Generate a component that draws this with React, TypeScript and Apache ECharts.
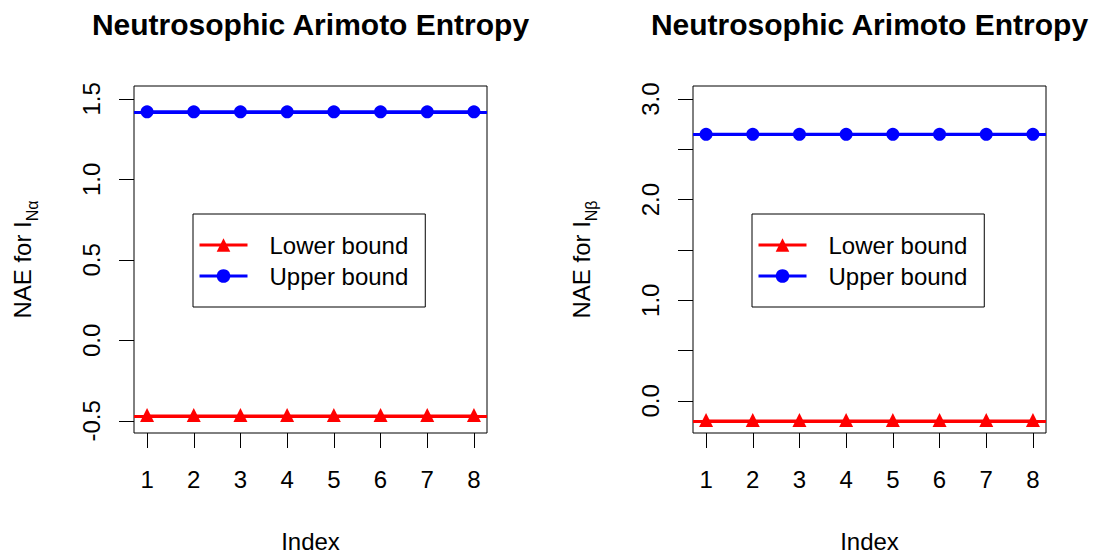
import { useEffect, useRef } from "react";
import * as echarts from "echarts";

const indices = [1, 2, 3, 4, 5, 6, 7, 8];
const lowerAlpha = [-0.47, -0.47, -0.47, -0.47, -0.47, -0.47, -0.47, -0.47];
const upperAlpha = [1.42, 1.42, 1.42, 1.42, 1.42, 1.42, 1.42, 1.42];
const lowerBeta = [-0.2, -0.2, -0.2, -0.2, -0.2, -0.2, -0.2, -0.2];
const upperBeta = [2.65, 2.65, 2.65, 2.65, 2.65, 2.65, 2.65, 2.65];
const xTicks = [1, 2, 3, 4, 5, 6, 7, 8];
const yTicksAlpha = [-0.5, 0, 0.5, 1, 1.5];
const yTicksBeta = [0, 0.5, 1, 1.5, 2, 2.5, 3];
const yLabelsBeta = [0, 1, 2, 3];
const titleText = "Neutrosophic Arimoto Entropy";
const legendNames = ["Lower bound", "Upper bound"];
const xName = "Index";

const FONT = "'Liberation Sans', Arial, Helvetica, sans-serif";
const RED = "#ff0000";
const BLUE = "#0000ff";

function pairs(xs: number[], ys: number[]) {
  return xs.map((x, i) => [x, ys[i]]);
}

export default function App() {
  const ref = useRef<HTMLDivElement>(null);
  useEffect(() => {
    if (!ref.current) return;
    const chart = echarts.init(ref.current, null, { renderer: "svg" });

    const grids = [
      { left: 134, top: 86, width: 353, height: 347 },
      { left: 693, top: 86, width: 353, height: 347 },
    ];

    const xAxis = [0, 1].map((i) => ({
      gridIndex: i,
      type: "value",
      min: 0.72,
      max: 8.28,
      name: xName,
      nameLocation: "middle",
      nameGap: 96,
      nameTextStyle: { fontSize: 24, color: "#000", fontFamily: FONT },
      axisLine: { show: false, onZero: false },
      axisTick: { show: true, length: 15, customValues: xTicks, lineStyle: { color: "#000", width: 1 } },
      axisLabel: { customValues: xTicks, fontSize: 24, color: "#000", fontFamily: FONT, margin: 34 },
      splitLine: { show: false },
    }));

    const yName = (sub: string) => ({
      name: `{m|NAE for I}{s|${sub}}`,
      nameLocation: "middle",
      nameRotate: 90,
      nameGap: 94,
      nameTextStyle: {
        color: "#000",
        fontFamily: FONT,
        fontSize: 24,
        rich: {
          m: { fontSize: 24, fontFamily: FONT, color: "#000", lineHeight: 36, verticalAlign: "middle" },
          s: { fontSize: 16, fontFamily: FONT, color: "#000", lineHeight: 36, verticalAlign: "bottom" },
        },
      },
    });

    const yAxis = [
      {
        gridIndex: 0,
        type: "value",
        min: -0.575,
        max: 1.58,
        ...yName("Nα"),
        axisLine: { show: false, onZero: false },
        axisTick: { show: true, length: 15, customValues: yTicksAlpha, lineStyle: { color: "#000", width: 1 } },
        axisLabel: {
          customValues: yTicksAlpha,
          rotate: 90,
          fontSize: 24,
          color: "#000",
          fontFamily: FONT,
          margin: 31,
          formatter: (v: number) => v.toFixed(1),
        },
        splitLine: { show: false },
      },
      {
        gridIndex: 1,
        type: "value",
        min: -0.32,
        max: 3.13,
        ...yName("Nβ"),
        axisLine: { show: false, onZero: false },
        axisTick: { show: true, length: 15, customValues: yTicksBeta, lineStyle: { color: "#000", width: 1 } },
        axisLabel: {
          customValues: yLabelsBeta,
          rotate: 90,
          fontSize: 24,
          color: "#000",
          fontFamily: FONT,
          margin: 31,
          formatter: (v: number) => v.toFixed(1),
        },
        splitLine: { show: false },
      },
    ];

    const mkSeries = (name: string, idx: number, vals: number[], color: string, symbol: string) => ({
      name,
      type: "line",
      xAxisIndex: idx,
      yAxisIndex: idx,
      data: pairs(indices, vals),
      symbol,
      symbolSize: symbol === "triangle" ? 14 : 13,
      symbolOffset: symbol === "triangle" ? [0, -1] : [0, 0],
      itemStyle: { color },
      lineStyle: { color, width: 3 },
      markLine: {
        silent: true,
        symbol: "none",
        label: { show: false },
        lineStyle: { color, width: 3, type: "solid" },
        data: [{ yAxis: vals[0] }],
      },
    });

    const legendBase = {
      orient: "vertical",
      top: 214,
      data: legendNames,
      borderColor: "#000",
      borderWidth: 1,
      padding: [19, 17, 19, 5],
      itemGap: 7,
      itemWidth: 48,
      itemHeight: 17,
      selectedMode: false,
      lineStyle: { width: 3 },
      textStyle: { fontSize: 24, color: "#000", fontFamily: FONT, padding: [0, 0, 0, 17] },
    };

    chart.setOption({
      animation: false,
      backgroundColor: "#fff",
      title: [
        {
          text: titleText,
          left: 305.5,
          top: 4,
          textAlign: "center",
          textStyle: { fontSize: 30, fontWeight: "bold", color: "#000", fontFamily: FONT },
        },
        {
          text: titleText,
          left: 864.5,
          top: 4,
          textAlign: "center",
          textStyle: { fontSize: 30, fontWeight: "bold", color: "#000", fontFamily: FONT },
        },
      ],
      legend: [
        { ...legendBase, left: 193 },
        { ...legendBase, left: 752 },
      ],
      grid: grids.map((g) => ({ ...g, show: true, borderColor: "#000", borderWidth: 1, backgroundColor: "transparent" })),
      xAxis,
      yAxis,
      series: [
        mkSeries(legendNames[0], 0, lowerAlpha, RED, "triangle"),
        mkSeries(legendNames[1], 0, upperAlpha, BLUE, "circle"),
        mkSeries(legendNames[0], 1, lowerBeta, RED, "triangle"),
        mkSeries(legendNames[1], 1, upperBeta, BLUE, "circle"),
      ],
    } as any);

    return () => chart.dispose();
  }, []);

  return (
    <div
      ref={ref}
      style={{ position: "fixed", left: 0, top: 0, width: 1097, height: 558, background: "#fff" }}
    />
  );
}
